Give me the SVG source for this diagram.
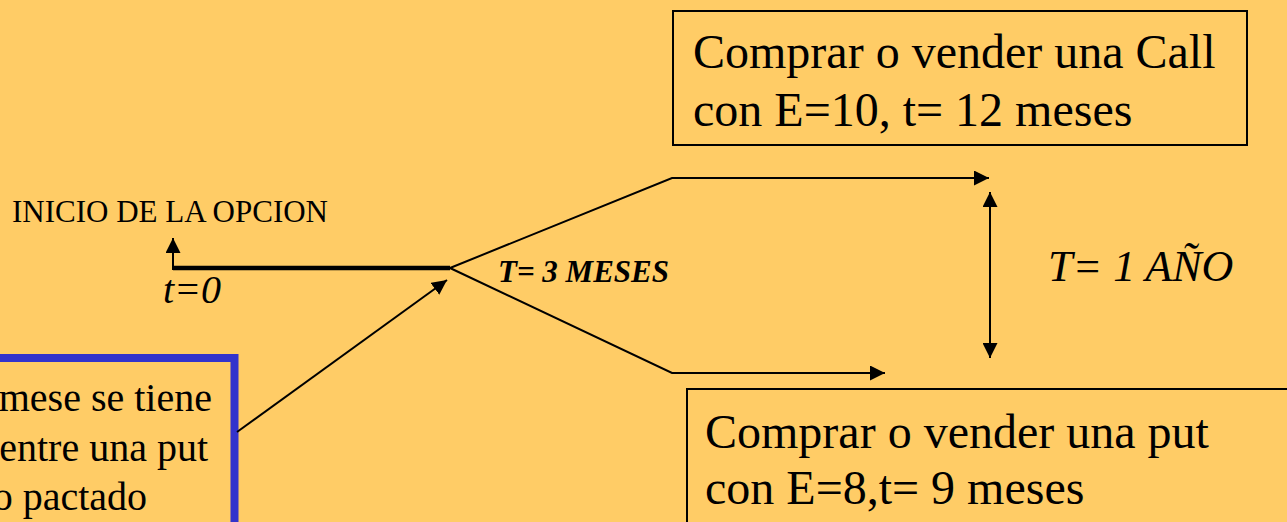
<svg xmlns="http://www.w3.org/2000/svg" width="1287" height="522" viewBox="0 0 1287 522">
  <style>
    .t { font-family: "Liberation Serif", "Times New Roman", serif; fill: #000; }
    .box { fill: none; stroke: #000; stroke-width: 2; }
    .ln { fill: none; stroke: #000; stroke-width: 2; }
    .big { font-size: 48px; }
  </style>
  <defs>
    <marker id="ah" viewBox="0 0 10 10" refX="10" refY="5" markerWidth="15" markerHeight="15" markerUnits="userSpaceOnUse" orient="auto-start-reverse">
      <path d="M0,0 L10,5 L0,10 Z" fill="#000"/>
    </marker>
  </defs>
  <rect x="0" y="0" width="1287" height="522" fill="#FFCC66"/>

  <g id="label-inicio">
    <text class="t" x="12" y="222" font-size="31">INICIO DE LA OPCION</text>
  </g>
  <g id="label-t0">
    <text class="t" x="163" y="303" font-size="40" font-style="italic">t=0</text>
  </g>
  <g id="label-3meses">
    <text class="t" x="498" y="282" font-size="31" font-style="italic" font-weight="bold">T= 3 MESES</text>
  </g>
  <g id="label-1anio">
    <text class="t" x="1048" y="281" font-size="44" font-style="italic">T= 1 AÑO</text>
  </g>

  <g id="node-call">
    <rect class="box" x="673" y="11" width="574" height="134"/>
    <text class="t big" x="693" y="68">Comprar o vender una Call</text>
    <text class="t big" x="693" y="126">con E=10, t= 12 meses</text>
  </g>

  <g id="node-put">
    <rect class="box" x="687" y="389" width="620" height="160"/>
    <text class="t big" x="705" y="448">Comprar o vender una put</text>
    <text class="t big" x="705" y="504">con E=8,t= 9 meses</text>
  </g>

  <g id="node-blue">
    <rect x="-100" y="358" width="334.5" height="200" fill="none" stroke="#3333CC" stroke-width="8"/>
    <text class="t" x="212" y="411" font-size="40" text-anchor="end">mese se tiene</text>
    <text class="t" x="208" y="461" font-size="40" text-anchor="end">entre una put</text>
    <text class="t" x="147" y="510" font-size="40" text-anchor="end">o pactado</text>
  </g>

  <g id="connectors">
    <polyline fill="none" stroke="#000" stroke-width="4.5" points="173,268 450,268"/>
    <line class="ln" x1="173" y1="270" x2="173" y2="238" marker-end="url(#ah)"/>
    <polyline class="ln" points="450,268 672,178 989,178" marker-end="url(#ah)"/>
    <polyline class="ln" points="450,268 672,373 885,373" marker-end="url(#ah)"/>
    <line class="ln" x1="990" y1="192" x2="990" y2="358" marker-start="url(#ah)" marker-end="url(#ah)"/>
    <line class="ln" x1="237" y1="432" x2="447" y2="280" marker-end="url(#ah)"/>
  </g>
</svg>
